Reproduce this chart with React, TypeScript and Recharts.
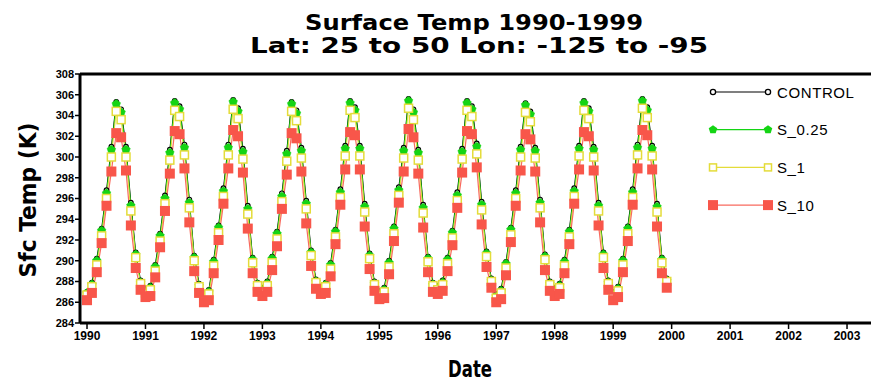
import React from "react";
import { LineChart, Line, XAxis, YAxis } from "recharts";

const TITLE_1 = "Surface Temp 1990-1999";
const TITLE_2 = "Lat: 25 to 50 Lon: -125 to -95";
const Y_LABEL = "Sfc Temp (K)";
const X_LABEL = "Date";

const YEARS = [1990, 1991, 1992, 1993, 1994, 1995, 1996, 1997, 1998, 1999];
const X_TICKS = [1990, 1991, 1992, 1993, 1994, 1995, 1996, 1997, 1998, 1999, 2000, 2001, 2002, 2003];
const Y_TICKS = [284, 286, 288, 290, 292, 294, 296, 298, 300, 302, 304, 306, 308];

const SERIES_NAMES = ["CONTROL", "S_0.25", "S_1", "S_10"];

const CONTROL = [
  287.0, 287.9, 290.2, 293.1, 296.8, 301.0, 305.3, 304.6, 301.0, 295.6, 290.8, 288.1,
  287.3, 287.6, 289.6, 292.6, 296.3, 300.7, 305.4, 304.9, 301.2, 295.9, 290.5, 287.8,
  286.9, 287.2, 290.1, 293.4, 297.0, 301.2, 305.5, 304.7, 300.8, 295.3, 290.3, 287.9,
  287.4, 288.0, 290.4, 292.8, 296.5, 300.6, 305.3, 304.5, 300.9, 295.8, 291.0, 288.2,
  287.5, 287.9, 289.8, 293.0, 296.9, 301.1, 305.4, 304.8, 301.1, 295.5, 290.7, 288.0,
  287.1, 287.4, 290.0, 293.3, 297.1, 300.9, 305.6, 304.6, 300.7, 295.4, 290.4, 287.9,
  287.6, 288.1, 290.3, 292.9, 296.6, 300.8, 305.4, 304.9, 301.3, 295.7, 290.9, 288.3,
  286.8, 287.3, 289.9, 293.2, 296.8, 301.0, 305.2, 304.4, 300.9, 295.9, 290.6, 288.0,
  287.4, 287.8, 290.1, 293.0, 297.0, 301.1, 305.4, 304.7, 301.0, 295.6, 290.8, 288.1,
  287.0, 287.5, 290.2, 293.3, 296.9, 301.2, 305.6, 304.8, 301.1, 295.5, 290.3, 288.3,
];

const S_025 = [
  286.9, 287.7, 290.0, 292.9, 296.5, 300.7, 305.1, 304.3, 300.7, 295.3, 290.6, 287.9,
  287.1, 287.4, 289.4, 292.4, 296.0, 300.4, 305.2, 304.6, 300.9, 295.6, 290.3, 287.6,
  286.7, 287.0, 289.9, 293.2, 296.7, 300.9, 305.3, 304.4, 300.5, 295.0, 290.1, 287.7,
  287.2, 287.8, 290.2, 292.6, 296.2, 300.3, 305.1, 304.2, 300.6, 295.5, 290.8, 288.0,
  287.3, 287.7, 289.6, 292.8, 296.6, 300.8, 305.2, 304.5, 300.8, 295.2, 290.5, 287.8,
  286.9, 287.2, 289.8, 293.1, 296.8, 300.6, 305.4, 304.3, 300.4, 295.1, 290.2, 287.7,
  287.4, 287.9, 290.1, 292.7, 296.3, 300.5, 305.2, 304.6, 301.0, 295.4, 290.7, 288.1,
  286.6, 287.1, 289.7, 293.0, 296.5, 300.7, 305.0, 304.1, 300.6, 295.6, 290.4, 287.8,
  287.2, 287.6, 289.9, 292.8, 296.7, 300.8, 305.2, 304.4, 300.7, 295.3, 290.6, 287.9,
  286.8, 287.3, 290.0, 293.1, 296.6, 300.9, 305.4, 304.5, 300.8, 295.2, 290.1, 288.1,
];

const S_1 = [
  286.7, 287.5, 289.6, 292.4, 296.0, 300.0, 304.4, 303.6, 300.0, 294.8, 290.3, 287.8,
  286.9, 287.2, 289.0, 291.9, 295.5, 299.7, 304.5, 303.9, 300.2, 295.1, 290.0, 287.5,
  286.5, 286.8, 289.5, 292.7, 296.2, 300.2, 304.6, 303.7, 299.8, 294.5, 289.8, 287.6,
  287.0, 287.6, 289.8, 292.1, 295.7, 299.6, 304.4, 303.5, 299.9, 295.0, 290.5, 287.9,
  287.1, 287.5, 289.2, 292.3, 296.1, 300.1, 304.5, 303.8, 300.1, 294.7, 290.2, 287.7,
  286.7, 287.0, 289.4, 292.6, 296.3, 299.9, 304.7, 303.6, 299.7, 294.6, 289.9, 287.6,
  287.2, 287.7, 289.7, 292.2, 295.8, 299.8, 304.5, 303.9, 300.3, 294.9, 290.4, 288.0,
  286.4, 286.9, 289.3, 292.5, 296.0, 300.0, 304.3, 303.4, 299.9, 295.1, 290.1, 287.7,
  287.0, 287.4, 289.5, 292.3, 296.2, 300.1, 304.5, 303.7, 300.0, 294.8, 290.3, 287.8,
  286.6, 287.1, 289.6, 292.6, 296.1, 300.2, 304.7, 303.8, 300.1, 294.7, 289.8, 288.0,
];

const S_10 = [
  286.2, 286.9, 288.9, 291.7, 295.3, 298.6, 302.3, 301.9, 298.7, 293.4, 289.3, 287.2,
  286.5, 286.6, 288.4, 291.3, 294.8, 298.4, 302.5, 302.2, 298.9, 293.7, 289.0, 286.9,
  286.0, 286.2, 288.8, 292.0, 295.5, 298.9, 302.6, 302.0, 298.5, 293.1, 288.8, 287.0,
  286.6, 287.0, 289.1, 291.4, 295.0, 298.3, 302.3, 301.8, 298.6, 293.6, 289.5, 287.3,
  286.8, 286.9, 288.5, 291.6, 295.4, 298.8, 302.4, 302.1, 298.8, 293.3, 289.2, 287.1,
  286.3, 286.4, 288.7, 291.9, 295.6, 298.6, 302.7, 301.9, 298.4, 293.2, 288.9, 287.0,
  286.8, 287.1, 289.0, 291.5, 295.1, 298.5, 302.5, 302.2, 299.0, 293.5, 289.4, 287.4,
  286.0, 286.3, 288.6, 291.8, 295.3, 298.7, 302.2, 301.7, 298.6, 293.7, 289.1, 287.1,
  286.6, 286.8, 288.8, 291.6, 295.5, 298.8, 302.4, 302.0, 298.7, 293.4, 289.3, 287.2,
  286.2, 286.5, 288.9, 291.9, 295.4, 298.9, 302.6, 302.1, 298.8, 293.3, 288.8, 287.4,
];

const data = CONTROL.map((_, i) => ({
  t: YEARS[Math.floor(i / 12)] + (i % 12) / 12,
  control: CONTROL[i],
  s025: S_025[i],
  s1: S_1[i],
  s10: S_10[i],
}));

const BLACK = "#000000";
const GREEN = "#14d414";
const YELLOW = "#e4dc3a";
const RED = "#f8564a";
const RED_LINE = "#f86a5e";

const ControlDot = (p: any) => (
  <circle key={p.index} cx={p.cx} cy={p.cy} r={2.3} fill="#fff" stroke={BLACK} strokeWidth={1.2} />
);
const pent = (cx: number, cy: number, r: number) => {
  const pts: string[] = [];
  for (let k = 0; k < 5; k++) {
    const a = -Math.PI / 2 + (k * 2 * Math.PI) / 5;
    pts.push(`${cx + r * Math.cos(a)},${cy + r * Math.sin(a)}`);
  }
  return pts.join(" ");
};
const GreenDot = (p: any) => (
  <polygon key={p.index} points={pent(p.cx, p.cy, 4.5)} fill={GREEN} stroke={GREEN} strokeWidth={0.5} />
);
const YellowDot = (p: any) => (
  <rect key={p.index} x={p.cx - 4} y={p.cy - 4} width={8} height={8} fill="#fff" stroke={YELLOW} strokeWidth={1.5} />
);
const RedDot = (p: any) => (
  <rect key={p.index} x={p.cx - 5} y={p.cy - 5} width={10} height={10} fill={RED} stroke="none" />
);

const LegendBox = () => {
  const rows = [
    { name: SERIES_NAMES[0], color: BLACK, dot: (x: number, y: number) => <circle cx={x} cy={y} r={2.6} fill="#fff" stroke={BLACK} strokeWidth={1.3} /> },
    { name: SERIES_NAMES[1], color: GREEN, dot: (x: number, y: number) => <polygon points={pent(x, y, 4.5)} fill={GREEN} /> },
    { name: SERIES_NAMES[2], color: YELLOW, dot: (x: number, y: number) => <rect x={x - 3.5} y={y - 3.5} width={7} height={7} fill="#fff" stroke={YELLOW} strokeWidth={1.5} /> },
    { name: SERIES_NAMES[3], color: RED_LINE, dot: (x: number, y: number) => <rect x={x - 5} y={y - 5} width={10} height={10} fill={RED} /> },
  ];
  return (
    <g transform="translate(705,80)">
      {rows.map((r, i) => {
        const y = 12 + i * 37.7;
        return (
          <g key={r.name}>
            <line x1={8} y1={y} x2={63} y2={y} stroke={r.color} strokeWidth={1.2} />
            {r.dot(8, y)}
            {r.dot(63, y)}
            <text x={72} y={y + 5.5} fontFamily="Liberation Sans, Arial, sans-serif" fontSize={15} letterSpacing={0.6} fill="#000">
              {r.name}
            </text>
          </g>
        );
      })}
    </g>
  );
};

const tickFont = { fontFamily: "Liberation Sans, Arial, sans-serif", fontWeight: 700 as any, fill: "#000" };

export default function App() {
  return (
    <div style={{ position: "absolute", left: 0, top: 0, width: 872, height: 383, background: "#fff" }}>
      <LineChart width={872} height={383} data={data} margin={{ top: 0, right: 1, bottom: 0, left: 0 }}>
        <XAxis
          xAxisId="top"
          orientation="top"
          dataKey="t"
          type="number"
          domain={[1989.88, 2003.41]}
          allowDataOverflow
          height={74}
          tick={false}
          tickLine={false}
          axisLine={{ stroke: "#000", strokeWidth: 3 }}
        />
        <XAxis
          dataKey="t"
          type="number"
          domain={[1989.88, 2003.41]}
          allowDataOverflow
          ticks={X_TICKS}
          interval={0}
          height={60}
          tickSize={6}
          tickMargin={2}
          axisLine={{ stroke: "#000", strokeWidth: 3 }}
          tickLine={{ stroke: "#000", strokeWidth: 1.5 }}
          tick={{ ...tickFont, fontSize: 12 }}
        />
        <YAxis
          type="number"
          domain={[284, 308]}
          ticks={Y_TICKS}
          interval={0}
          width={80}
          tickSize={5}
          tickMargin={1}
          allowDataOverflow
          axisLine={{ stroke: "#000", strokeWidth: 3 }}
          tickLine={{ stroke: "#000", strokeWidth: 1.5 }}
          tick={{ ...tickFont, fontSize: 11 }}
        />
        <Line dataKey="control" name={SERIES_NAMES[0]} stroke={BLACK} strokeWidth={1} dot={ControlDot} isAnimationActive={false} />
        <Line dataKey="s025" name={SERIES_NAMES[1]} stroke={GREEN} strokeWidth={1} dot={GreenDot} isAnimationActive={false} />
        <Line dataKey="s1" name={SERIES_NAMES[2]} stroke={YELLOW} strokeWidth={1} dot={YellowDot} isAnimationActive={false} />
        <Line dataKey="s10" name={SERIES_NAMES[3]} stroke={RED_LINE} strokeWidth={1.2} dot={RedDot} isAnimationActive={false} />
      </LineChart>
      <svg width={872} height={383} style={{ position: "absolute", left: 0, top: 0, pointerEvents: "none" }}>
        <LegendBox />
        <g fontFamily="DejaVu Sans, sans-serif" fontWeight={700} fill="#000">
          <text x={474} y={30} fontSize={21} textAnchor="middle" textLength={338} lengthAdjust="spacingAndGlyphs">{TITLE_1}</text>
          <text x={479} y={53} fontSize={21} textAnchor="middle" textLength={458} lengthAdjust="spacingAndGlyphs">{TITLE_2}</text>
          <text x={470} y={377} fontSize={23} textAnchor="middle" textLength={44} lengthAdjust="spacingAndGlyphs">{X_LABEL}</text>
          <text
            x={0}
            y={0}
            fontSize={23}
            textAnchor="middle"
            textLength={155}
            lengthAdjust="spacingAndGlyphs"
            transform="translate(36,200) rotate(-90)"
          >
            {Y_LABEL}
          </text>
        </g>
      </svg>
    </div>
  );
}
